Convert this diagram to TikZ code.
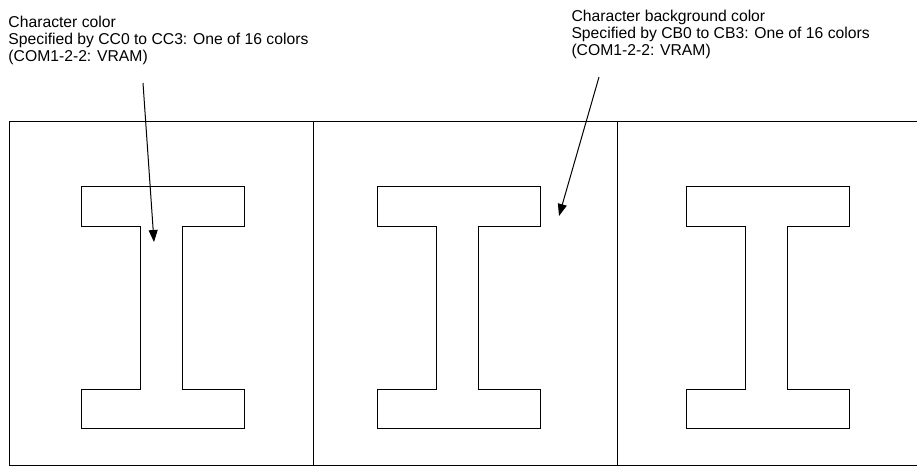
\documentclass[tikz,border=0pt]{standalone}
\usepackage{fontspec}
\setmainfont{Liberation Sans}
\usetikzlibrary{arrows.meta}
\begin{document}
\begin{tikzpicture}[x=1pt,y=-1pt,line width=1pt,
  lbl/.style={anchor=north west,inner sep=0pt,align=left,font=\fontsize{15.7}{17}\selectfont},
  ibeam/.style={draw,line width=1pt},
  frame/.style={draw,line width=1pt},
  ptr/.style={-{Triangle[length=12pt,width=9pt]},line width=1pt}]
\useasboundingbox (0,0) rectangle (917,466);
% frame and cell dividers
\draw[frame] (918,121) -- (9,121) -- (9,465) -- (918,465);
\draw[frame] (313,121) -- (313,465);
\draw[frame] (617,121) -- (617,465);
% I shapes
\foreach \x in {81,377,686}
  \draw[ibeam] (\x,186) -- ++(163,0) -- ++(0,40) -- ++(-62,0) -- ++(0,163)
    -- ++(62,0) -- ++(0,39) -- ++(-163,0) -- ++(0,-39) -- ++(59,0)
    -- ++(0,-163) -- ++(-59,0) -- cycle;
% labels
\node[lbl] (t1) at (8,16) {Character color\\Specified by CC0 to CC3: One of 16 colors\\(COM1-2-2: VRAM)};
\node[lbl] (t2) at (571,10) {Character background color\\Specified by CB0 to CB3: One of 16 colors\\(COM1-2-2: VRAM)};
% pointers
\coordinate (a1s) at (143,83);
\coordinate (a1e) at (154,242);
\coordinate (a2s) at (599,77);
\coordinate (a2e) at (559,216);
\draw[ptr] (a1s) -- (a1e);
\draw[ptr] (a2s) -- (a2e);
\end{tikzpicture}
\end{document}
